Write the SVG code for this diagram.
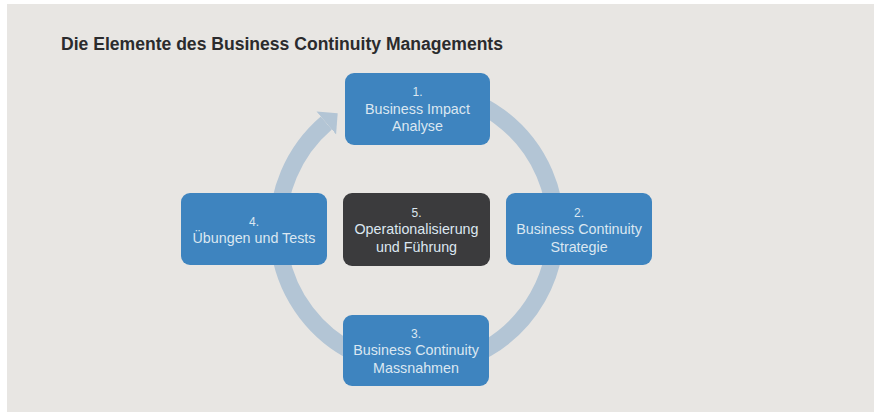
<svg xmlns="http://www.w3.org/2000/svg" width="874" height="412" viewBox="0 0 874 412">
<defs>
<style>
.bg{fill:#e8e6e3}
.box{fill:#3e84bf}
.dark{fill:#3b3b3d}
.num{font-family:"Liberation Sans",Arial,sans-serif;font-size:12px;fill:#dbe7f1;text-anchor:middle}
.lbl{font-family:"Liberation Sans",Arial,sans-serif;font-size:14.3px;fill:#dbe7f1;text-anchor:middle}
.ring{fill:none;stroke:#b3c5d5;stroke-width:17}
.title{font-family:"Liberation Sans",Arial,sans-serif;font-size:18px;font-weight:bold;fill:#2b2b2d}
</style>
<marker id="ah" markerUnits="userSpaceOnUse" markerWidth="16" markerHeight="32" refX="0" refY="15" orient="auto" viewBox="0 0 16 30">
<path d="M0,0 L15,15 L0,30 Z" fill="#b3c5d5"/>
</marker>
</defs>
<rect width="874" height="412" fill="#ffffff"/>
<rect class="bg" x="7" y="4" width="867" height="408"/>
<text class="title" x="61" y="50" textLength="442" lengthAdjust="spacingAndGlyphs">Die Elemente des Business Continuity Managements</text>
<g id="connectors">
<path class="ring" d="M369.2,97.9 A139,139 0 1 1 326.3,123.0" marker-end="url(#ah)"/>
</g>
<g id="node1">
<rect class="box" x="345" y="73" width="145" height="72" rx="9"/>
<text class="num" x="417.5" y="96">1.</text>
<text class="lbl" x="417.5" y="113.5">Business Impact</text>
<text class="lbl" x="417.5" y="131">Analyse</text>
</g>
<g id="node2">
<rect class="box" x="506" y="193" width="146" height="72" rx="9"/>
<text class="num" x="579" y="216.5">2.</text>
<text class="lbl" x="579" y="234">Business Continuity</text>
<text class="lbl" x="579" y="251.5">Strategie</text>
</g>
<g id="node3">
<rect class="box" x="343" y="315" width="146" height="71" rx="9"/>
<text class="num" x="416" y="337.5">3.</text>
<text class="lbl" x="416" y="355">Business Continuity</text>
<text class="lbl" x="416" y="372.5">Massnahmen</text>
</g>
<g id="node4">
<rect class="box" x="181" y="193" width="146" height="72" rx="9"/>
<text class="num" x="254" y="225.5">4.</text>
<text class="lbl" x="254" y="243">Übungen und Tests</text>
</g>
<g id="node5">
<rect class="dark" x="343" y="193" width="147" height="73" rx="9"/>
<text class="num" x="416.5" y="216.5">5.</text>
<text class="lbl" x="416.5" y="234">Operationalisierung</text>
<text class="lbl" x="416.5" y="251.5">und Führung</text>
</g>
</svg>
